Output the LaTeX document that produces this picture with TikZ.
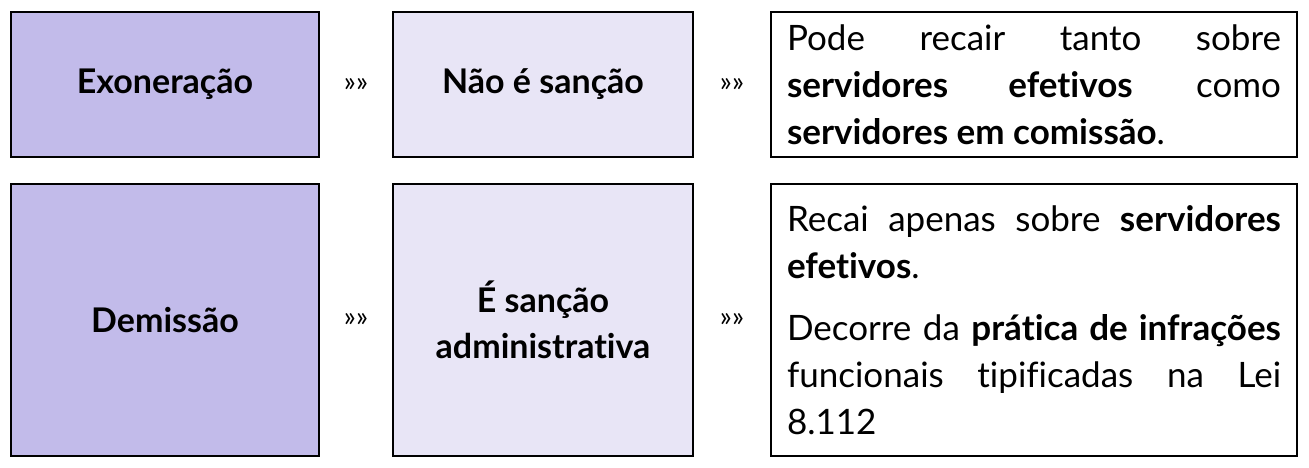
\documentclass[tikz,border=0pt]{standalone}
\usepackage{fontspec}
\setmainfont{Lato}[Ligatures=NoCommon]
\usepackage{xcolor}
\usetikzlibrary{positioning}
\definecolor{lilas}{RGB}{194,187,234}
\definecolor{lilasclaro}{RGB}{232,229,246}

\begin{document}
\begin{tikzpicture}[x=1pt, y=1pt, node distance=72pt]
    \tikzstyle{termo} = [draw, line width=2pt, rectangle, fill=lilas, minimum width=308pt, align=center, font=\fontsize{34}{46}\selectfont\bfseries]
    \tikzstyle{efeito} = [termo, fill=lilasclaro, minimum width=300pt]
    \tikzstyle{texto} = [draw, line width=2pt, rectangle, text width=494pt, inner xsep=16pt, inner ysep=0pt, align=justify, font=\fontsize{35}{47}\selectfont]
    \tikzstyle{seta} = [font=\fontsize{28}{30}\selectfont]

    \useasboundingbox (0,0) rectangle (1309,468);

    \node[termo, minimum height=145pt] (exo) at (165,383.5) {Exoneração};
    \node[efeito, minimum height=145pt, right=of exo] (nao) {Não é sanção};
    \node[texto, minimum height=145pt, right=76pt of nao] (pode) {Pode recair tanto sobre\linebreak \textbf{servidores efetivos} como\linebreak \textbf{servidores em comissão}.};
    \node[termo, minimum height=272pt, below=25pt of exo] (dem) {Demissão};
    \node[efeito, minimum height=272pt, right=of dem] (sim) {É sanção\\administrativa};
    \node[texto, minimum height=272pt, right=76pt of sim] (recai) {Recai apenas sobre \textbf{servidores}\linebreak \textbf{efetivos}.\par\vspace{15pt}Decorre da \textbf{prática de infrações}\linebreak funcionais tipificadas na Lei\linebreak 8.112};

    \path (exo) -- node[seta] {»»} (nao);
    \path (nao) -- node[seta] {»»} (pode);
    \path (dem) -- node[seta] {»»} (sim);
    \path (sim) -- node[seta] {»»} (recai);
\end{tikzpicture}
\end{document}
